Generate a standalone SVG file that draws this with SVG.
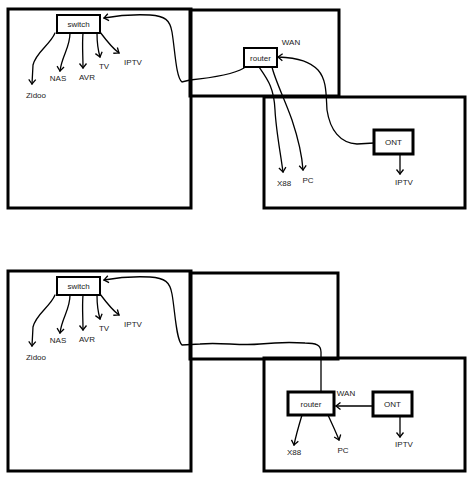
<svg xmlns="http://www.w3.org/2000/svg" width="474" height="480" viewBox="0 0 474 480">
<style>
.room{fill:none;stroke:#000;stroke-width:3}
.box{fill:#fff;stroke:#000;stroke-width:2}
.box2{fill:#fff;stroke:#000;stroke-width:3}
.wire{fill:none;stroke:#000;stroke-width:1.3;stroke-linecap:round}
.arr{marker-end:url(#v)}
text{font-family:"Liberation Sans",Arial,sans-serif;font-size:8px;fill:#222;text-anchor:middle}
</style>
<defs>
<marker id="v" markerUnits="userSpaceOnUse" markerWidth="10" markerHeight="10" refX="0" refY="0" viewBox="-6 -5 8 10" orient="auto">
<path d="M-4.5,-3.5 L0,0 L-4.5,3.5" fill="none" stroke="#000" stroke-width="1.3"/>
</marker>
</defs>
<rect width="474" height="480" fill="#fff"/>

<!-- top diagram rooms -->
<g id="rooms-top">
<rect class="room" x="8" y="9" width="183" height="199"/>
<rect class="room" x="190" y="10" width="149" height="86"/>
<rect class="room" x="264" y="97" width="201" height="111" fill="#fff"/>
</g>

<g id="connectors-top">
<path class="wire arr" d="M55,33 C50,45 36,52 33,65 L32,84"/>
<path class="wire arr" d="M70,33 C70,48 62,55 60,71"/>
<path class="wire arr" d="M83,33 C82,45 83,55 83,68"/>
<path class="wire arr" d="M97,33 C97,45 98,50 100,57"/>
<path class="wire arr" d="M100,32 C106,40 112,48 119,53"/>
<path class="wire arr" d="M244,68 C232,75 210,78 190,80 L182,82 C176,78 175,50 172,32 C170,20 165,16 150,15 C130,14 115,16 104,18"/>
<path class="wire arr" d="M259,67 C268,80 274,88 275,110 C276,130 280,150 283,172"/>
<path class="wire arr" d="M272,67 C275,80 285,100 292,120 C298,138 302,155 303,170"/>
<path class="wire arr" d="M374,143 L357,144 C340,143 330,130 327,110 C326,95 327,80 318,70 C310,62 300,58 278,57"/>
<path class="wire arr" d="M400,154 L400,174"/>
</g>

<g id="switch-top"><rect class="box" x="57" y="15" width="43" height="18"/><text x="78.5" y="27">switch</text></g>
<g id="router-top"><rect class="box" x="244" y="48" width="33" height="19"/><text x="260.5" y="60.5">router</text></g>
<g id="ont-top"><rect class="box2" x="374" y="130" width="39" height="24"/><text x="393.5" y="145">ONT</text></g>
<g id="labels-top">
<text x="36" y="98">Zidoo</text>
<text x="58" y="81">NAS</text>
<text x="87" y="80">AVR</text>
<text x="104" y="69">TV</text>
<text x="133" y="65">IPTV</text>
<text x="291" y="45">WAN</text>
<text x="284" y="186">X88</text>
<text x="308" y="183">PC</text>
<text x="404" y="185">IPTV</text>
</g>

<!-- bottom diagram rooms -->
<g id="rooms-bottom">
<rect class="room" x="8" y="271" width="183" height="200"/>
<rect class="room" x="190" y="273" width="148" height="86"/>
<rect class="room" x="264" y="358" width="201" height="113" fill="#fff"/>
</g>

<g id="connectors-bottom">
<path class="wire arr" d="M55,295 C50,307 36,314 33,327 L32,346"/>
<path class="wire arr" d="M70,295 C70,310 62,317 60,333"/>
<path class="wire arr" d="M83,295 C82,307 83,317 83,330"/>
<path class="wire arr" d="M97,295 C97,307 98,312 100,319"/>
<path class="wire arr" d="M100,294 C106,302 112,310 119,315"/>
<path class="wire arr" d="M321,392 L321,352 C321,345 316,343 305,343 C290,342 280,342 260,344 C240,346 220,342 200,344 L182,345 C176,340 175,310 172,294 C170,282 165,278 150,277 C130,276 115,278 104,280"/>
<path class="wire arr" d="M373,406 L336,406"/>
<path class="wire arr" d="M400,416 L400,437"/>
<path class="wire arr" d="M302,415 C299,425 296,435 294,445"/>
<path class="wire arr" d="M328,415 C332,424 336,432 339,440"/>
</g>

<g id="switch-bottom"><rect class="box" x="57" y="277" width="43" height="18"/><text x="78.5" y="289">switch</text></g>
<g id="router-bottom"><rect class="box2" x="288" y="392" width="46" height="23"/><text x="311" y="406.5">router</text></g>
<g id="ont-bottom"><rect class="box2" x="373" y="392" width="39" height="24"/><text x="392.5" y="407">ONT</text></g>
<g id="labels-bottom">
<text x="36" y="360">Zidoo</text>
<text x="58" y="343">NAS</text>
<text x="87" y="342">AVR</text>
<text x="104" y="331">TV</text>
<text x="133" y="327">IPTV</text>
<text x="346" y="396">WAN</text>
<text x="294" y="455">X88</text>
<text x="343" y="453">PC</text>
<text x="404" y="447">IPTV</text>
</g>
</svg>
